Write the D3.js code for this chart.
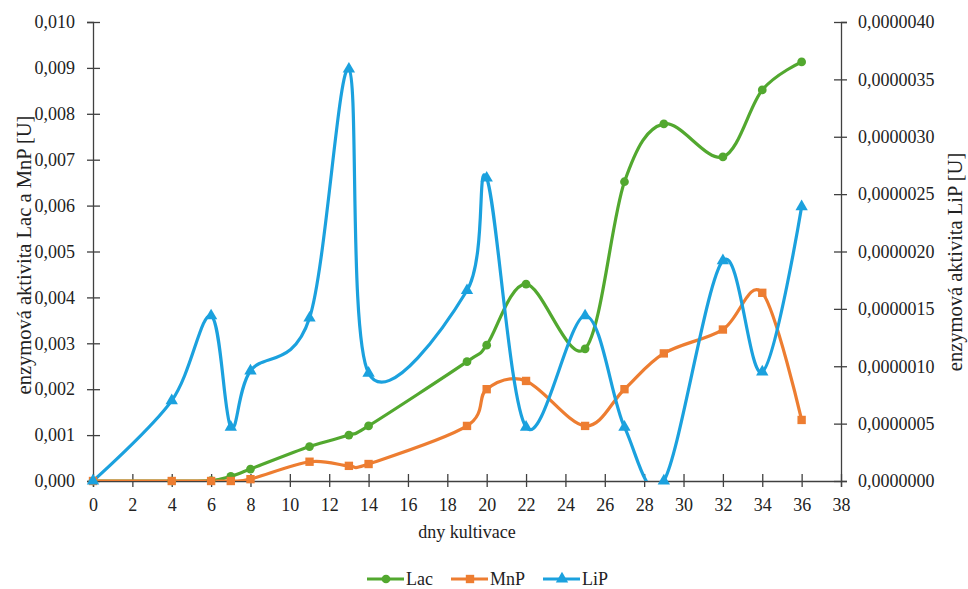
<!DOCTYPE html>
<html><head><meta charset="utf-8">
<script src="https://cdn.jsdelivr.net/npm/d3@7"></script>
<style>body{margin:0;background:#fff}svg{display:block}</style>
</head><body><svg id="c" width="968" height="589"></svg>
<script>
const days = [0,4,6,7,8,11,13,14,19,20,22,25,27,29,32,34,36];
const lac  = [0,0,0.00001,0.0001,0.00026,0.00075,0.001,0.0012,0.0026,0.00296,0.00429,0.00288,0.00652,0.00778,0.00706,0.00852,0.00913];
const mnp  = [0,0,0,0,0.00004,0.00042,0.00033,0.00037,0.0012,0.002,0.00218,0.0012,0.002,0.00278,0.0033,0.0041,0.00133];
const lip  = [0,0.0000007,0.00000144,0.00000047,0.00000096,0.00000142,0.00000359,0.00000094,0.00000166,0.00000264,0.00000047,0.00000144,0.00000047,0,0.00000192,0.00000095,0.00000239];
const xTicks = d3.range(0,39,2);
const yLeftTicks = d3.range(0,11).map(d=>d*0.001);
const yRightTicks = d3.range(0,9).map(d=>d*0.0000005);
const seriesNames = ["Lac","MnP","LiP"];
const colors = ["#52A82F","#ED7D31","#1BA1DE"];

const FONT = "Liberation Serif";
const FS = 18;
const svg = d3.select("#c");
const L=93,R=841,T=22,B=481;
const x = d3.scaleLinear().domain([0,38]).range([L,R]);
const yL = d3.scaleLinear().domain([0,0.010]).range([B,T]);
const yR = d3.scaleLinear().domain([0,0.000004]).range([B,T]);
const fmt = (v,n)=>v.toFixed(n).replace(".",",");

svg.append("defs").append("clipPath").attr("id","clip").append("rect")
  .attr("x",L-6).attr("y",T-10).attr("width",R-L+12).attr("height",B-T+10);

const axCol="#404040";
const gl = svg.append("g").attr("transform",`translate(${L},0)`)
  .call(d3.axisLeft(yL).tickValues(yLeftTicks).tickFormat(d=>fmt(d,3)).tickSizeOuter(0).tickSize(6).tickPadding(12));
const gr = svg.append("g").attr("transform",`translate(${R},0)`)
  .call(d3.axisRight(yR).tickValues(yRightTicks).tickFormat(d=>fmt(d,7)).tickSizeOuter(0).tickSize(6).tickPadding(11));
const gx = svg.append("g").attr("transform",`translate(0,${B})`)
  .call(d3.axisBottom(x).tickValues(xTicks).tickFormat(d=>d).tickSizeOuter(0).tickSize(6).tickPadding(11));
[gl,gr,gx].forEach(g=>{
  g.attr("font-family",FONT).attr("font-size",FS);
  g.selectAll("path.domain").attr("stroke",axCol).attr("stroke-width",1.3);
  g.selectAll(".tick line").attr("stroke",axCol).attr("stroke-width",1.3);
});
gl.selectAll(".tick line").attr("x1",7);
gr.selectAll(".tick line").attr("x1",-7);
gx.selectAll(".tick line").attr("y1",-7);

const data = [lac,mnp,lip];
const scales = [yL,yL,yR];
const line = (ys)=>d3.line().x((d,i)=>x(days[i])).y(d=>ys(d)).curve(d3.curveCardinal.tension(0));
const plot = svg.append("g").attr("clip-path","url(#clip)");
const symbols=[d3.symbolCircle,d3.symbolSquare,d3.symbolTriangle];
const symSize=[60,70,66];
data.forEach((vals,k)=>{
  plot.append("path").datum(vals).attr("d",line(scales[k])).attr("fill","none")
    .attr("stroke",colors[k]).attr("stroke-width",3.2);
});
data.forEach((vals,k)=>{
  svg.append("g").selectAll("path").data(vals).join("path")
    .attr("transform",(d,i)=>`translate(${x(days[i])},${scales[k](d)})`)
    .attr("d",d3.symbol().type(symbols[k]).size(symSize[k])).attr("fill",colors[k]);
});

const lx=[367,451,543];
seriesNames.forEach((n,k)=>{
  const g=svg.append("g").attr("transform",`translate(${lx[k]},579)`);
  g.append("line").attr("x1",0).attr("x2",37).attr("stroke",colors[k]).attr("stroke-width",3.2);
  g.append("path").attr("transform","translate(19,0)").attr("d",d3.symbol().type(symbols[k]).size(symSize[k])).attr("fill",colors[k]);
  g.append("text").attr("x",39).attr("y",6).text(n);
});
svg.append("text").attr("x",467).attr("y",538).attr("text-anchor","middle").text("dny kultivace");
svg.selectAll("text").attr("font-family",FONT).attr("font-size",FS).attr("fill","#222");

svg.append("text").attr("transform",`translate(31,255) rotate(-90)`).attr("text-anchor","middle")
  .attr("font-family",FONT).attr("font-size",20.5).attr("fill","#222")
  .text("enzymová aktivita  Lac a MnP [U]");
svg.append("text").attr("transform",`translate(962,262) rotate(-90)`).attr("text-anchor","middle")
  .attr("font-family",FONT).attr("font-size",20.5).attr("fill","#222")
  .text("enzymová aktivita  LiP [U]");
</script></body></html>
